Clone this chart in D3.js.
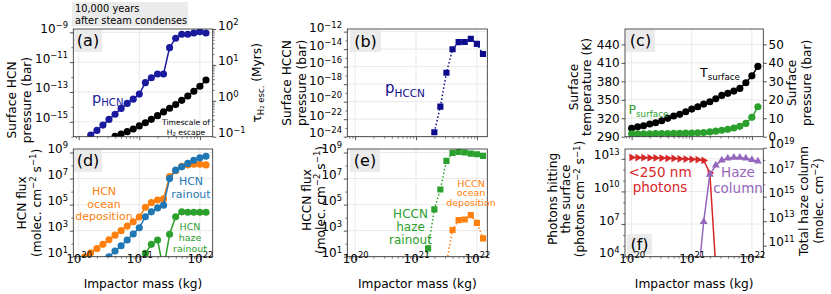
<!DOCTYPE html>
<html>
<head>
<meta charset="utf-8">
<title>Impact chart</title>
<script src="https://cdn.jsdelivr.net/npm/d3@7"></script>
<style>
  body { margin: 0; background: #fff; }
  text { font-family: "DejaVu Sans", sans-serif; }
</style>
</head>
<body>
<script>
// ---- data ----
var masses = [1.0e20, 1.26e20, 1.58e20, 2.0e20, 2.51e20, 3.16e20, 3.98e20, 5.01e20, 6.31e20, 7.94e20,
              1.0e21, 1.26e21, 1.58e21, 2.0e21, 2.51e21, 3.16e21, 3.98e21, 5.01e21, 6.31e21, 7.94e21,
              1.0e22, 1.26e22];

var pHCN = [null, null, 1.29e-16, 2.63e-16, 6.0e-16, 1.45e-15, 3.2e-15, 7.9e-15, 1.7e-14, 3.3e-14, 7.2e-14,
            4.2e-13, 8.9e-13, 1.6e-12, 1.6e-12, 9.3e-11, 4.0e-10, 7.4e-10, 7.4e-10, 8.9e-10, 1.1e-9, 8.9e-10];
var tauH2 = [null, null, null, null, null, null, 0.102, 0.119, 0.138, 0.164, 0.20,
             0.245, 0.305, 0.385, 0.49, 0.62, 0.79, 1.03, 1.36, 1.84, 2.54, 3.8];

var pHCCN = [null, null, null, null, null, null, null, null, null, null, null, null, null,
             3.2e-24, 2.7e-21, 2.0e-17, 9.8e-15, 6.2e-14, 6.6e-14, 1.5e-13, 4.0e-14, 2.8e-15];

var Tsurf = [303.6, 306.2, 307.8, 310.6, 312.7, 315.9, 319.8, 323.6, 326.3, 330.5, 334.9,
             338.6, 343.0, 346.8, 351.6, 357.1, 360.4, 364.1, 368.5, 377.6, 388.9, 404.2];
var Psurf = [1.6, 1.6, 1.6, 1.6, 1.7, 1.7, 1.7, 1.8, 1.8, 1.9, 2.0,
             2.1, 2.3, 2.6, 3.0, 3.5, 4.0, 4.7, 5.6, 7.2, 10.5, 16.2];

var hcnOcean = [null, 10, 20, 42, 89, 200, 450, 1000, 2240, 4800, 1.12e4,
                6.3e4, 1.41e5, 2.24e5, 2.8e5, 1.41e7, 4.0e7, 8.9e7, 1.12e8, 1.26e8, 1.26e8, 1.12e8];
var hcnRain = [null, null, null, null, null, 10, 27.5, 69, 190, 550, 1660,
               1.17e4, 2.8e4, 5.6e4, 9.1e4, 1.0e7, 4.4e7, 7.9e7, 1.45e8, 2.57e8, 3.9e8, 5.2e8];
var hcnHaze = [null, null, null, null, null, null, null, null, null, null, null,
               18, 89, 190, 1, 525, 1.17e4, 2.8e4, 2.6e4, 2.6e4, 2.6e4, 2.6e4];

var hcccnHaze = [null, null, null, null, null, null, null, null, null, null, null,
                 1e-5, 44, 4.3e4, 1.45e6, 2.3e8, 9.3e8, 1.12e9, 1.0e9, 8.3e8, 7.4e8, 5.5e8];
var hcccnOcean = [null, null, null, null, null, null, null, null, null, null, null,
                  null, null, null, null, 3, 1120, 6500, 7200, 1.58e4, 4000, 257];

var photons = [1.32e13, 1.29e13, 1.26e13, 1.23e13, 1.2e13, 1.17e13, 1.12e13, 1.07e13, 1.0e13, 9.5e12, 8.9e12,
               8.3e12, 7.1e12, 5.0e11, 1e3, null, null, null, null, null, null, null];
var hazeCol = [null, null, null, null, null, null, null, null, null, null, null,
               1e8, 9.1e12, 6.5e16, 3.7e17, 9.5e17, 1.41e18, 1.58e18, 1.58e18, 1.41e18, 1.05e18, 7.9e17];

var xMajor = [1e20, 1e21, 1e22];

// ---- layout ----
var W = 831, H = 294;
var frameColor = "#262626", gridColor = "#e3e3e3", boxFill = "#ebebeb";
var fsTick = 12, fsLab = 12.2;
var cBlue = "#1f77b4", cOrange = "#ff7f0e", cGreen = "#2ca02c", cRed = "#d62728", cPurple = "#9467bd";

var cols = [{l: 73.3, r: 212.7, x0: 19.911, x1: 22.211},
            {l: 347.3, r: 487.3, x0: 19.871, x1: 22.171},
            {l: 625, r: 763.3, x0: 19.89, x1: 22.19}];
var rows = [{t: 29, b: 136.7}, {t: 149, b: 256.7}];

var svg = d3.select("body").append("svg").attr("width", W).attr("height", H);
var defs = svg.append("defs");

function rich(sel, parts, fs) {
  var cur = 0;
  parts.forEach(function(p) {
    var m = p[1] || 0;
    var target = m === 1 ? -0.38 * fs : (m === -1 ? 0.24 * fs : 0);
    sel.append("tspan").attr("dy", target - cur).attr("font-size", m ? fs * 0.7 : fs).text(p[0]);
    cur = target;
  });
  return sel;
}

function expStr(e) { return e < 0 ? "\u2212" + (-e) : String(e); }

function logMinors(dom) {
  var out = [], lo = Math.log10(dom[0]), hi = Math.log10(dom[1]);
  for (var e = Math.floor(lo); e <= Math.ceil(hi); e++)
    for (var k = 2; k < 10; k++) out.push(k * Math.pow(10, e));
  return out.filter(function(v) { var l = Math.log10(v); return l >= lo - 1e-6 && l <= hi + 1e-6; });
}

function panel(ci, ri, id) {
  var c = cols[ci], r = rows[ri];
  var p = {l: c.l, r: c.r, t: r.t, b: r.b, id: id};
  p.x = d3.scaleLog().domain([Math.pow(10, c.x0), Math.pow(10, c.x1)]).range([c.l, c.r]);
  defs.append("clipPath").attr("id", "clip-" + id).append("rect")
    .attr("x", c.l).attr("y", r.t).attr("width", c.r - c.l).attr("height", r.b - r.t);
  p.root = svg.append("g");
  p.gGrid = p.root.append("g");
  p.gBox = p.root.append("g");
  p.gData = p.root.append("g").attr("clip-path", "url(#clip-" + id + ")");
  p.gAxes = p.root.append("g");
  p.gGrid.selectAll(null).data(xMajor.filter(function(v) { return p.x(v) >= p.l && p.x(v) <= p.r; }))
    .enter().append("line")
    .attr("x1", function(d) { return p.x(d); }).attr("x2", function(d) { return p.x(d); })
    .attr("y1", p.t).attr("y2", p.b).attr("stroke", gridColor).attr("stroke-width", 0.8);
  return p;
}

function hgrid(p, y, vals) {
  p.gGrid.selectAll(null).data(vals).enter().append("line")
    .attr("x1", p.l).attr("x2", p.r)
    .attr("y1", function(d) { return y(d); }).attr("y2", function(d) { return y(d); })
    .attr("stroke", gridColor).attr("stroke-width", 0.8);
}

function axis(p, side, scale, majors, minors, mode) {
  var mk = function() {
    return side === "left" ? d3.axisLeft(scale) : side === "right" ? d3.axisRight(scale) : d3.axisBottom(scale);
  };
  var pos = side === "left" ? "translate(" + p.l + ",0)" : side === "right" ? "translate(" + p.r + ",0)" : "translate(0," + p.b + ")";
  if (minors && minors.length) {
    var gm = p.gAxes.append("g").attr("transform", pos)
      .call(mk().tickValues(minors).tickSize(2).tickFormat(""));
    gm.select(".domain").remove();
    gm.selectAll("line").attr("stroke", frameColor).attr("stroke-width", 0.6);
  }
  var g = p.gAxes.append("g").attr("transform", pos)
    .call(mk().tickValues(majors).tickSize(3.5).tickPadding(side === "bottom" ? 2.5 : 1.8)
      .tickFormat(mode === "lin" ? d3.format("d") : function() { return ""; }));
  g.attr("font-family", null).attr("font-size", null);
  g.select(".domain").remove();
  g.selectAll("line").attr("stroke", frameColor).attr("stroke-width", 0.8);
  g.selectAll("text").attr("font-size", fsTick).attr("fill", "#000");
  if (mode === "log") {
    g.selectAll(".tick text").each(function(d) {
      var t = d3.select(this).text("");
      rich(t, [["10", 0], [expStr(Math.round(Math.log10(d))), 1]], fsTick);
    });
  }
  if (mode === "none") g.selectAll("text").remove();
}

function frame(p) {
  p.gAxes.append("rect").attr("x", p.l).attr("y", p.t).attr("width", p.r - p.l).attr("height", p.b - p.t)
    .attr("fill", "none").attr("stroke", frameColor).attr("stroke-width", 0.8);
}

function xAxis(p, labels) {
  axis(p, "bottom", p.x, xMajor, logMinors(p.x.domain()), labels ? "log" : "none");
  if (labels) {
    p.gAxes.append("text").attr("x", (p.l + p.r) / 2).attr("y", 287.5).attr("text-anchor", "middle")
      .attr("font-size", fsLab).text("Impactor mass (kg)");
  }
}

function tag(p, x, y, w, h, s) {
  p.gBox.append("rect").attr("x", x).attr("y", y).attr("width", w).attr("height", h).attr("fill", boxFill);
  p.gBox.append("text").attr("x", x + w / 2).attr("y", y + h / 2 + 5.6).attr("text-anchor", "middle")
    .attr("font-size", 16).text(s);
}

function ylabel(xc, yc, lines, fs) {
  lines.forEach(function(parts, i) {
    var t = svg.append("text").attr("transform", "translate(" + (xc[i] + 0.35 * fs) + "," + yc + ") rotate(-90)")
      .attr("text-anchor", "middle").attr("font-size", fs);
    rich(t, parts, fs);
  });
}

function note(x, ys, lines, fs, color, anchor) {
  lines.forEach(function(parts, i) {
    var t = svg.append("text").attr("x", x).attr("y", ys[i]).attr("text-anchor", anchor || "middle")
      .attr("font-size", fs).attr("fill", color);
    rich(t, parts, fs);
  });
}

function series(p, y, vals, o) {
  var pts = masses.map(function(m, i) { return {m: m, v: vals[i]}; })
    .filter(function(d) { return d.v != null; });
  var line = d3.line().x(function(d) { return p.x(d.m); }).y(function(d) { return y(d.v); });
  p.gData.append("path").attr("d", line(pts)).attr("fill", "none").attr("stroke", o.color)
    .attr("stroke-width", 1.5).attr("stroke-dasharray", o.dash || null);
  p.gData.selectAll(null).data(pts).enter().append("path")
    .attr("transform", function(d) {
      return "translate(" + p.x(d.m) + "," + y(d.v) + ")" + (o.rot ? " rotate(" + o.rot + ")" : "");
    })
    .attr("d", d3.symbol().type(o.sym).size(o.size))
    .attr("fill", o.color);
}

var circ = {sym: d3.symbolCircle, size: 40};
var sq = {sym: d3.symbolSquare, size: 38};
function st(base, extra) { return Object.assign({}, base, extra); }

// ---- (a) ----
var pa = panel(0, 0, "a");
var ya = d3.scaleLog().domain([1e-16, Math.pow(10, -8.78)]).range([pa.b, pa.t]);
var ya2 = d3.scaleLog().domain([0.1, 100]).range([pa.b, pa.t]);
hgrid(pa, ya, [1e-15, 1e-13, 1e-11, 1e-9]);
tag(pa, 74, 29.5, 28, 22.5, "(a)");
series(pa, ya2, tauH2, st(circ, {color: "#000"}));
series(pa, ya, pHCN, st(circ, {color: "#1a1a9e"}));
frame(pa);
axis(pa, "left", ya, [1e-15, 1e-13, 1e-11, 1e-9], [1e-16, 1e-14, 1e-12, 1e-10], "log");
axis(pa, "right", ya2, [0.1, 1, 10, 100], logMinors(ya2.domain()), "log");
xAxis(pa, false);
note(92, [103], [[["p", 0], ["HCN", -1]]], 14.5, "#1a1a9e", "start");
note(186, [124.8, 134.5], [[["Timescale of", 0]], [["H", 0], ["2", -1], [" escape", 0]]], 7.6, "#000");
ylabel([11.7, 26.7], 100, [[["Surface HCN", 0]], [["pressure (bar)", 0]]], fsLab);
ylabel([257], (pa.t + pa.b) / 2, [[["\u03c4", 0], ["H\u2082 esc.", -1], [" (Myrs)", 0]]], fsLab);

// top note box
svg.append("rect").attr("x", 72).attr("y", 2).attr("width", 116).attr("height", 24.5).attr("fill", boxFill);
note(75, [12, 23.5], [[["10,000 years", 0]], [["after steam condenses", 0]]], 9.8, "#000", "start");

// ---- (b) ----
var pb = panel(1, 0, "b");
var yb = d3.scaleLog().domain([1e-24, Math.pow(10, -11.7)]).range([pb.b, pb.t]);
hgrid(pb, yb, [1e-24, 1e-22, 1e-20, 1e-18, 1e-16, 1e-14, 1e-12]);
tag(pb, 350, 30, 31, 22, "(b)");
series(pb, yb, pHCCN, st(sq, {color: "#0b0b8c", dash: "1.5,2.2"}));
frame(pb);
axis(pb, "left", yb, [1e-24, 1e-22, 1e-20, 1e-18, 1e-16, 1e-14, 1e-12],
     [1e-23, 1e-21, 1e-19, 1e-17, 1e-15, 1e-13], "log");
xAxis(pb, false);
note(385, [93], [[["p", 0], ["HCCN", -1]]], 15, "#0b0b8c", "start");
ylabel([286.7, 301.7], (pb.t + pb.b) / 2, [[["Surface HCCN", 0]], [["pressure (bar)", 0]]], fsLab);

// ---- (c) ----
var pc = panel(2, 0, "c");
var yc = d3.scaleLinear().domain([290, 465]).range([pc.b, pc.t]);
var yc2 = d3.scaleLinear().domain([0, 58.33]).range([pc.b, pc.t]);
hgrid(pc, yc, [320, 350, 380, 410, 440]);
tag(pc, 626, 29.5, 29, 22.5, "(c)");
series(pc, yc, Tsurf, st(circ, {color: "#000"}));
series(pc, yc2, Psurf, st(circ, {color: cGreen}));
frame(pc);
axis(pc, "left", yc, [290, 320, 350, 380, 410, 440], null, "lin");
axis(pc, "right", yc2, [0, 10, 20, 30, 40, 50], null, "lin");
xAxis(pc, false);
note(700, [77], [[["T", 0], ["surface", -1]]], 12.5, "#000", "start");
note(628.5, [114], [[["P", 0], ["surface", -1]]], 12.5, cGreen, "start");
ylabel([573.3, 586.7], 87, [[["Surface", 0]], [["temperature (K)", 0]]], fsLab);
ylabel([791.7, 806.7], (pc.t + pc.b) / 2, [[["Surface", 0]], [["pressure (bar)", 0]]], fsLab);

// ---- (d) ----
var fluxTicks = [1e1, 1e3, 1e5, 1e7, 1e9], fluxMinor = [1e2, 1e4, 1e6, 1e8];
var pd = panel(0, 1, "d");
var yd = d3.scaleLog().domain([10, Math.pow(10, 9.27)]).range([pd.b, pd.t]);
hgrid(pd, yd, fluxTicks);
tag(pd, 74, 149.5, 28, 22.5, "(d)");
series(pd, yd, hcnOcean, st(circ, {color: cOrange}));
series(pd, yd, hcnRain, st(circ, {color: cBlue}));
series(pd, yd, hcnHaze, st(circ, {color: cGreen}));
frame(pd);
axis(pd, "left", yd, fluxTicks, fluxMinor, "log");
xAxis(pd, true);
note(104, [194.5, 207.5, 220], [[["HCN", 0]], [["ocean", 0]], [["deposition", 0]]], 11, cOrange);
note(191, [185, 198], [[["HCN", 0]], [["rainout", 0]]], 11, cBlue);
note(190, [229.5, 240.5, 251.5], [[["HCN", 0]], [["haze", 0]], [["rainout", 0]]], 9.5, cGreen);
ylabel([21.7, 36.7], (pd.t + pd.b) / 2, [[["HCN flux", 0]],
  [["(molec. cm", 0], ["\u22122", 1], [" s", 0], ["\u22121", 1], [")", 0]]], fsLab);

// ---- (e) ----
var pe = panel(1, 1, "e");
var ye = d3.scaleLog().domain([10, Math.pow(10, 9.27)]).range([pe.b, pe.t]);
hgrid(pe, ye, fluxTicks);
tag(pe, 350, 149.5, 30, 22.5, "(e)");
series(pe, ye, hcccnHaze, st(sq, {color: cGreen, dash: "1.5,2.2"}));
series(pe, ye, hcccnOcean, st(sq, {color: cOrange, dash: "1.5,2.2"}));
frame(pe);
axis(pe, "left", ye, fluxTicks, fluxMinor, "log");
xAxis(pe, true);
note(471, [186.5, 196, 206], [[["HCCN", 0]], [["ocean", 0]], [["deposition", 0]]], 9.5, cOrange);
note(410.5, [218, 231.2, 244], [[["HCCN", 0]], [["haze", 0]], [["rainout", 0]]], 12, cGreen);
ylabel([306.7, 320.5], 200, [[["HCCN flux", 0]],
  [["(molec. cm", 0], ["\u22122", 1], [" s", 0], ["\u22121", 1], [")", 0]]], fsLab);

// ---- (f) ----
var pf = panel(2, 1, "f");
var yf = d3.scaleLog().domain([1e4, Math.pow(10, 13.9)]).range([pf.b, pf.t]);
var yf2 = d3.scaleLog().domain([Math.pow(10, 10.1), Math.pow(10, 18.9)]).range([pf.b, pf.t]);
hgrid(pf, yf, [1e4, 1e7, 1e10, 1e13]);
tag(pf, 627, 234, 25, 20.5, "(f)");
series(pf, yf, photons, {color: cRed, sym: d3.symbolTriangle, size: 26, rot: 90});
series(pf, yf2, hazeCol, {color: cPurple, sym: d3.symbolTriangle, size: 26});
frame(pf);
axis(pf, "left", yf, [1e4, 1e7, 1e10, 1e13], [1e5, 1e6, 1e8, 1e9, 1e11, 1e12], "log");
axis(pf, "right", yf2, [1e11, 1e13, 1e15, 1e17, 1e19], [1e12, 1e14, 1e16, 1e18], "log");
xAxis(pf, true);
note(660, [176.5, 191.5], [[["<250 nm", 0]], [["photons", 0]]], 13.5, cRed);
note(738, [176.5, 193], [[["Haze", 0]], [["column", 0]]], 13.5, cPurple);
ylabel([552.7, 565.5, 580], 199, [[["Photons hitting", 0]], [["the surface", 0]],
  [["(photons cm", 0], ["\u22122", 1], [" s", 0], ["\u22121", 1], [")", 0]]], fsLab);
ylabel([803.3, 818.3], 201, [[["Total haze column", 0]],
  [["(molec. cm", 0], ["\u22122", 1], [")", 0]]], fsLab);
</script>
</body>
</html>
